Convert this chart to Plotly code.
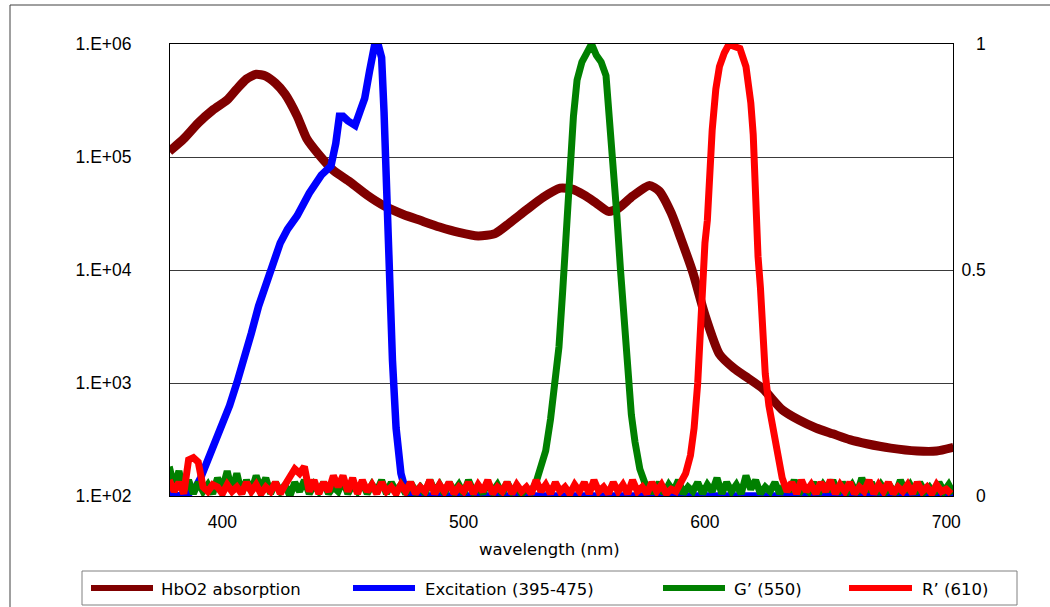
import plotly.graph_objects as go

# ---------------- data ----------------
hb_wl = [378, 384, 390, 396, 402, 406, 410, 414, 418, 422, 426, 431, 435, 440, 446, 453, 460, 467,
         475, 482, 490, 498, 506, 513, 519, 526, 533, 540, 545, 550, 555, 560, 564, 570, 577, 581,
         586, 590, 595, 600, 606, 612, 618, 624, 632, 639, 646, 653, 660, 667, 677, 688, 696, 703]
hb_val = [1.12e5, 1.45e5, 2.0e5, 2.6e5, 3.2e5, 4.0e5, 4.9e5, 5.4e5, 5.2e5, 4.5e5, 3.6e5, 2.3e5,
          1.45e5, 1.05e5, 7.6e4, 6.0e4, 4.6e4, 3.7e4, 3.1e4, 2.75e4, 2.4e4, 2.15e4, 2.0e4, 2.1e4,
          2.6e4, 3.4e4, 4.4e4, 5.3e4, 5.2e4, 4.6e4, 3.9e4, 3.3e4, 3.5e4, 4.5e4, 5.6e4, 5.0e4,
          3.2e4, 1.9e4, 9.5e3, 4.0e3, 1.8e3, 1.35e3, 1.1e3, 8.9e2, 5.8e2, 4.7e2, 4.0e2, 3.55e2,
          3.15e2, 2.9e2, 2.65e2, 2.5e2, 2.5e2, 2.7e2]

ex_wl = [378, 382, 386, 389, 391, 394, 397, 400, 403, 406, 409, 412, 415, 418, 421, 424, 427, 431,
         436, 441, 445, 447, 448.5, 450, 452, 455, 457, 459, 461, 463, 464.5, 466, 467, 468, 469,
         470.5, 472, 474, 476, 478, 500, 550, 600, 650, 703]
ex_val = [0.005, 0.0, 0.005, 0.02, 0.04, 0.08, 0.12, 0.15, 0.2, 0.25, 0.3, 0.36, 0.42, 0.47, 0.52,
          0.56, 0.59, 0.62, 0.67, 0.71, 0.73, 0.78, 0.84, 0.84, 0.83, 0.82, 0.85, 0.88, 0.94, 0.995,
          1.0, 0.97, 0.85, 0.66, 0.5, 0.3, 0.15, 0.05, 0.01, 0.0, 0.0, 0.0, 0.0, 0.0, 0.0]

g_peak_wl = [528, 530, 532, 534, 536, 538, 539.5, 541, 542, 543, 544, 545.5, 547, 549, 551, 553,
             555, 557, 559, 560.5, 562, 563.5, 565, 566.5, 568, 569.5, 571, 573, 575, 577]
g_peak_val = [0.01, 0.03, 0.06, 0.1, 0.17, 0.25, 0.33, 0.45, 0.55, 0.66, 0.75, 0.84, 0.92, 0.96,
              0.98, 1.0, 0.975, 0.96, 0.93, 0.83, 0.75, 0.62, 0.5, 0.39, 0.27, 0.18, 0.12, 0.06,
              0.03, 0.01]

r_peak_wl = [588, 590, 592, 594, 595.5, 597, 598, 599, 600, 601, 602, 603, 604.5, 606, 608, 610,
             612, 614.5, 617, 619, 620, 621, 622, 623, 624, 625, 626.5, 628, 630, 632, 634]
r_peak_val = [0.01, 0.03, 0.05, 0.09, 0.15, 0.25, 0.36, 0.48, 0.56, 0.61, 0.72, 0.81, 0.9, 0.95,
              0.98, 1.0, 0.995, 0.99, 0.95, 0.87, 0.8, 0.61, 0.53, 0.46, 0.36, 0.27, 0.2, 0.15,
              0.085, 0.04, 0.01]

# baseline noise (thousandths), sampled every 2 nm from the given start wavelength
g_noise1_start = 378
g_noise1 = [65, 20, 55, 10, 35, 5, 30, 10, 25, 5,
            40, 15, 55, 10, 50, 5, 35, 10, 45, 15,
            40, 5, 30, 10, 25, 0, 30, 10, 35, 5,
            25, 10, 30, 5, 20, 10, 35, 5, 25, 10,
            30, 5, 25, 10, 35, 5, 30, 10, 25, 5,
            30, 10, 20, 5, 35, 10, 25, 5, 30, 10,
            25, 5, 35, 10, 20, 5, 30, 10, 25, 5,
            30, 10, 20, 5, 15]
g_noise2_start = 579
g_noise2 = [10, 30, 5, 25, 10, 35, 5, 20, 10, 30,
            5, 25, 10, 40, 5, 30, 10, 25, 5, 45,
            15, 35, 5, 20, 10, 30, 5, 25, 10, 35,
            5, 20, 10, 30, 5, 25, 10, 35, 5, 30,
            10, 25, 5, 40, 10, 30, 5, 25, 10, 20,
            5, 35, 10, 25, 5, 30, 10, 20, 5, 30,
            10, 25, 5]
r_noise1_start = 378
r_noise1 = [35, 10, 30, 5, 80, 85, 75, 20, 10, 25,
            20, 5, 25, 10, 20, 5, 30, 10, 25, 5,
            20, 10, 30, 5, 25, 45, 60, 50, 65, 10,
            35, 5, 30, 10, 45, 20, 45, 10, 40, 5,
            35, 10, 25, 5, 30, 10, 20, 5, 25, 10,
            30, 5, 20, 10, 35, 5, 25, 10, 30, 5,
            20, 10, 30, 5, 25, 10, 35, 5, 20, 10,
            30, 5, 25, 10, 20, 5, 35, 10, 25, 5,
            30, 10, 20, 5, 25, 10, 30, 5, 35, 10,
            20, 5, 30, 10, 25, 5, 35, 10, 20, 5,
            30, 10, 25, 5, 15]
r_noise2_start = 636
r_noise2 = [30, 5, 35, 10, 25, 5, 30, 10, 35, 5,
            25, 10, 30, 5, 20, 10, 35, 5, 25, 10,
            30, 5, 20, 10, 25, 5, 30, 10, 20, 5,
            25, 10, 15, 5]

x_ticks = [400, 500, 600, 700]
y_ticks = [1e2, 1e3, 1e4, 1e5, 1e6]
y_tick_text = ["1.E+02", "1.E+03", "1.E+04", "1.E+05", "1.E+06"]
y2_ticks = [0, 0.5, 1]
y2_tick_text = ["\u00a0\u00a0\u00a00", "0.5", "\u00a0\u00a0\u00a01"]

x_title = "wavelength (nm)"
names = ["HbO2 absorption", "Excitation (395-475)", "G\u2019 (550)", "R\u2019 (610)"]
colors = ["#800000", "#0000FF", "#008000", "#FF0000"]


def noise_series(start, vals):
    return [start + 2 * i for i in range(len(vals))], [v / 1000 for v in vals]


gx1, gy1 = noise_series(g_noise1_start, g_noise1)
gx2, gy2 = noise_series(g_noise2_start, g_noise2)
rx1, ry1 = noise_series(r_noise1_start, r_noise1)
rx2, ry2 = noise_series(r_noise2_start, r_noise2)

g_wl = gx1 + g_peak_wl + gx2
g_val = gy1 + g_peak_val + gy2
r_wl = rx1 + r_peak_wl + rx2
r_val = ry1 + r_peak_val + ry2

fig = go.Figure()
fig.add_trace(go.Scatter(x=hb_wl, y=hb_val, mode="lines", name=names[0],
                         line=dict(color=colors[0], width=9, shape="spline", smoothing=0.6),
                         yaxis="y"))
fig.add_trace(go.Scatter(x=ex_wl, y=ex_val, mode="lines", name=names[1],
                         line=dict(color=colors[1], width=7.5), yaxis="y2"))
fig.add_trace(go.Scatter(x=g_wl, y=g_val, mode="lines", name=names[2],
                         line=dict(color=colors[2], width=7), yaxis="y2"))
fig.add_trace(go.Scatter(x=r_wl, y=r_val, mode="lines", name=names[3],
                         line=dict(color=colors[3], width=7), yaxis="y2"))

# body margin removed by post_script; target plot area (screen px) 170..953 x 44..496
L, R, T, B = 170, 953, 44, 496
W, H = 1050, 607


def px(x):
    return (x - L) / (R - L)


def py(y):
    return (B - y) / (B - T)


tick_font = dict(family="Liberation Sans, Arial, sans-serif", size=17.5, color="#000")
txt_font = dict(family="DejaVu Sans, sans-serif", size=16.5, color="#000")

fig.update_layout(
    width=W, height=H,
    margin=dict(l=L, r=W - R, t=T, b=H - B),
    paper_bgcolor="white", plot_bgcolor="white",
    showlegend=False,
    hovermode=False,
    xaxis=dict(range=[378.3, 702.8], tickvals=x_ticks, ticks="outside", ticklen=0,
               tickfont=tick_font, showgrid=False, zeroline=False,
               showline=True, linecolor="#000", linewidth=1, mirror=True,
               ticklabelstandoff=10),
    yaxis=dict(type="log", range=[2, 6], tickvals=y_ticks, ticktext=y_tick_text,
               tickfont=tick_font, showgrid=True, gridcolor="#3a3a3a", gridwidth=1,
               zeroline=False, showline=True, linecolor="#000", linewidth=1,
               ticks="outside", ticklen=0, ticklabelstandoff=34),
    yaxis2=dict(range=[0, 1], tickvals=y2_ticks, ticktext=y2_tick_text, overlaying="y",
                side="right", tickfont=tick_font, showgrid=False, zeroline=False,
                showline=True, linecolor="#000", linewidth=1,
                ticks="outside", ticklen=0, ticklabelstandoff=4),
)

shapes = [
    # outer chart border
    dict(type="rect", xref="paper", yref="paper", x0=px(10), x1=px(1070), y0=py(630), y1=py(5),
         line=dict(color="#404040", width=1), fillcolor="rgba(0,0,0,0)", layer="below"),
    # legend box
    dict(type="rect", xref="paper", yref="paper", x0=px(82), x1=px(1017), y0=py(605), y1=py(571),
         line=dict(color="#808080", width=1), fillcolor="white"),
]
legend_line_x = [(91, 153), (353, 415), (663, 725), (849, 912)]
legend_text_x = [159, 423, 732, 920]
annotations = [dict(xref="paper", yref="paper", x=px(549), y=py(549), text=x_title,
                    showarrow=False, xanchor="center", yanchor="middle", font=txt_font)]
for (x0, x1), tx, nm, c in zip(legend_line_x, legend_text_x, names, colors):
    shapes.append(dict(type="line", xref="paper", yref="paper", x0=px(x0), x1=px(x1),
                       y0=py(588), y1=py(588), line=dict(color=c, width=6)))
    annotations.append(dict(xref="paper", yref="paper", x=px(tx), y=py(589), text=nm,
                            showarrow=False, xanchor="left", yanchor="middle", font=txt_font))
fig.update_layout(shapes=shapes, annotations=annotations)

fig.write_html("out.html",
               config={"displayModeBar": False, "staticPlot": True},
               post_script="document.body.style.margin='0px';document.body.style.overflow='hidden';")
